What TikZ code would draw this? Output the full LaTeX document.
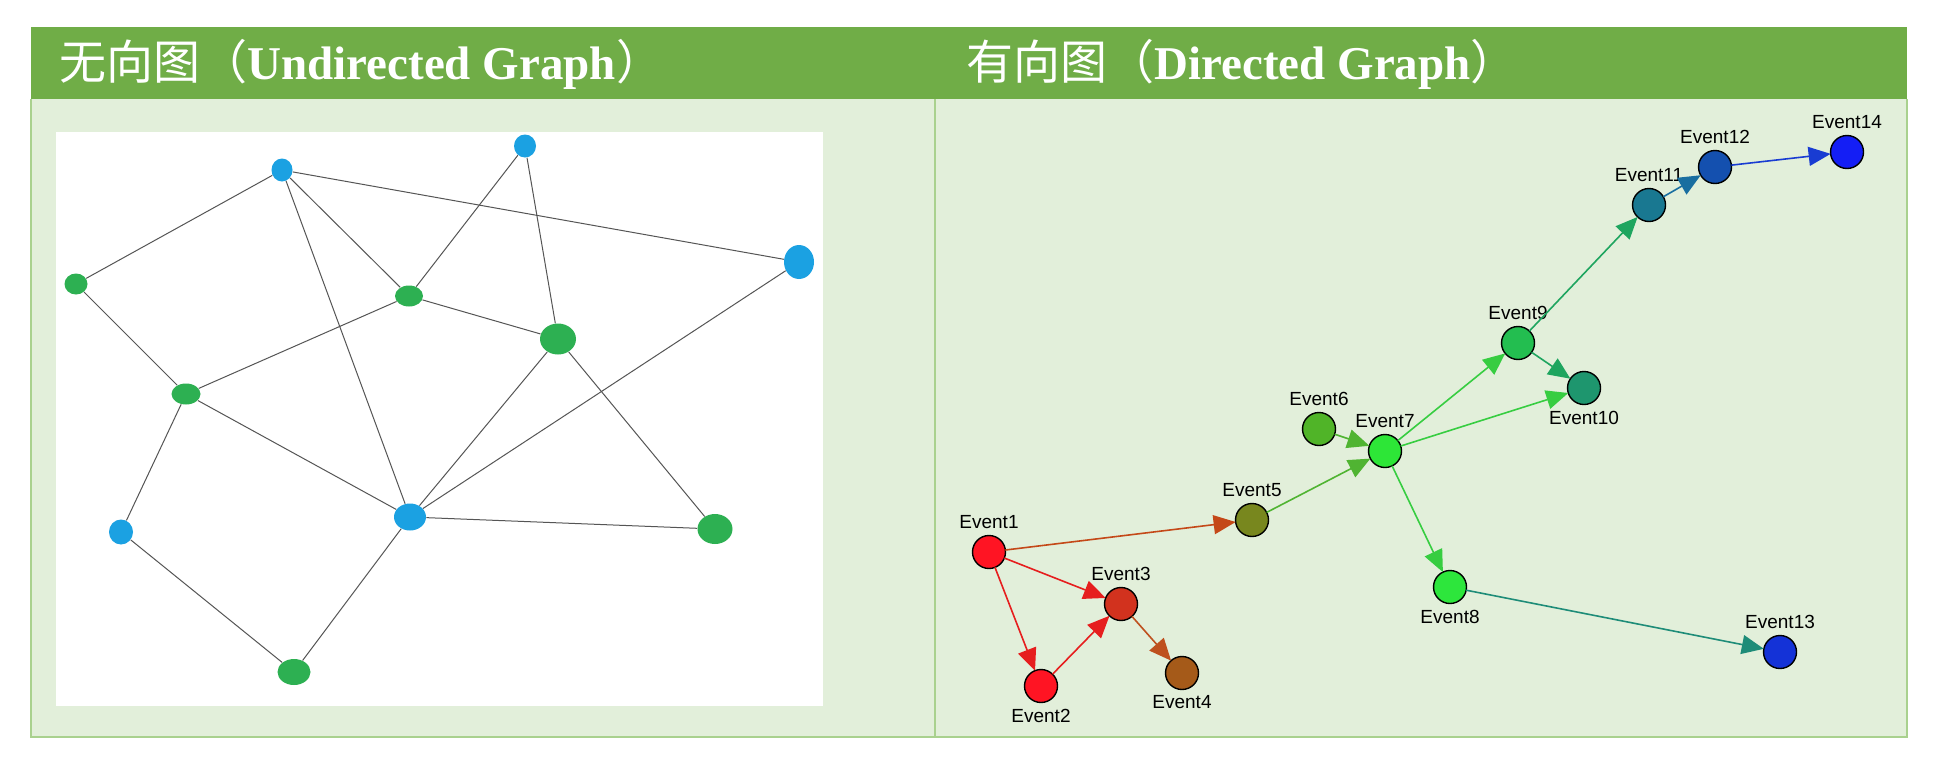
\documentclass[tikz,border=0pt]{standalone}
\usepackage{fontspec}
\setmainfont{Liberation Serif}
\newfontfamily\cjk{Noto Sans CJK SC}
\newfontfamily\evfont{Liberation Sans}
\usetikzlibrary{arrows.meta,shapes.geometric}

\definecolor{headgreen}{RGB}{112,173,71}
\definecolor{panelgreen}{RGB}{226,239,218}
\definecolor{framegreen}{RGB}{169,209,142}
\definecolor{dotblue}{RGB}{27,161,226}
\definecolor{dotgreen}{RGB}{45,176,82}
\definecolor{linkgray}{RGB}{85,85,85}

\definecolor{ev1}{RGB}{255,20,35}
\definecolor{ev2}{RGB}{255,20,35}
\definecolor{ev3}{RGB}{210,50,30}
\definecolor{ev4}{RGB}{165,90,25}
\definecolor{ev5}{RGB}{120,135,30}
\definecolor{ev6}{RGB}{80,180,40}
\definecolor{ev7}{RGB}{45,230,55}
\definecolor{ev8}{RGB}{45,230,60}
\definecolor{ev9}{RGB}{35,190,80}
\definecolor{ev10}{RGB}{30,150,110}
\definecolor{ev11}{RGB}{25,120,145}
\definecolor{ev12}{RGB}{20,80,175}
\definecolor{ev13}{RGB}{20,50,215}
\definecolor{ev14}{RGB}{20,30,245}

\definecolor{arbrown}{RGB}{196,72,24}
\definecolor{arred}{RGB}{230,30,30}
\definecolor{arorange}{RGB}{190,80,30}
\definecolor{argreen}{RGB}{80,180,50}
\definecolor{arlime}{RGB}{55,205,65}
\definecolor{arteal}{RGB}{30,165,95}
\definecolor{arsea}{RGB}{30,140,120}
\definecolor{arcyan}{RGB}{25,110,160}
\definecolor{arblue}{RGB}{25,60,210}

\tikzset{
  title/.style={font=\fontsize{23.5pt}{27pt}\selectfont\bfseries, text=white, inner sep=0pt, anchor=base west},
  dot/.style n args={3}{ellipse, fill=#1, minimum width=#2, minimum height=#3, inner sep=0pt},
  link/.style={draw=linkgray, line width=0.5pt},
  evt/.style={circle, draw=black, line width=0.7pt, fill=#1, minimum size=16.5pt, inner sep=0pt, outer sep=0pt},
  evlabel/.style={font=\evfont\fontsize{9.5pt}{10pt}\selectfont, inner sep=0pt, label distance=3pt},
  evarrow/.style={draw=#1, line width=0.8pt, -{Triangle[length=11pt,width=9.5pt]}}
}

\begin{document}
\begin{tikzpicture}[x=0.5pt, y=-0.5pt]

\useasboundingbox (0,0) rectangle (1946,760);

% frame and header
\fill[white] (0,0) rectangle (1946,760);
\fill[panelgreen] (31,27) rectangle (1907,737);
\fill[headgreen] (31,27) rectangle (1907,99);
\draw[framegreen, line width=1pt] (935,99) -- (935,737);
\draw[framegreen, line width=1pt] (31,99) -- (31,737) -- (1907,737) -- (1907,99);
\fill[white] (56,132) rectangle (823,706);

\node[title] (lefttitle) at (59,79) {{\cjk\mdseries 无向图（}Undirected Graph{\cjk\mdseries ）}};
\node[title] (righttitle) at (966,79) {{\cjk\mdseries 有向图（}Directed Graph{\cjk\mdseries ）}};

% undirected graph
\node[dot={dotblue}{10.5pt}{11.5pt}] (u1) at (282,170) {};
\node[dot={dotblue}{11pt}{11.5pt}] (u2) at (525,146) {};
\node[dot={dotgreen}{11.5pt}{10.5pt}] (u3) at (76,284) {};
\node[dot={dotblue}{15pt}{17pt}] (u4) at (799,262) {};
\node[dot={dotgreen}{14pt}{10.5pt}] (u5) at (409,296) {};
\node[dot={dotgreen}{18pt}{15.5pt}] (u6) at (558,339) {};
\node[dot={dotgreen}{14.5pt}{10.5pt}] (u7) at (186,394) {};
\node[dot={dotblue}{12pt}{12.5pt}] (u8) at (121,532) {};
\node[dot={dotblue}{16pt}{13.5pt}] (u9) at (410,517) {};
\node[dot={dotgreen}{17.5pt}{15pt}] (u10) at (715,529) {};
\node[dot={dotgreen}{16.5pt}{13pt}] (u11) at (294,672) {};

\draw[link] (u1) -- (u3);
\draw[link] (u1) -- (u5);
\draw[link] (u1) -- (u9);
\draw[link] (u1) -- (u4);
\draw[link] (u2) -- (u5);
\draw[link] (u2) -- (u6);
\draw[link] (u3) -- (u7);
\draw[link] (u5) -- (u7);
\draw[link] (u5) -- (u6);
\draw[link] (u7) -- (u9);
\draw[link] (u7) -- (u8);
\draw[link] (u6) -- (u9);
\draw[link] (u6) -- (u10);
\draw[link] (u4) -- (u9);
\draw[link] (u9) -- (u10);
\draw[link] (u9) -- (u11);
\draw[link] (u8) -- (u11);

% directed graph
\node[evt=ev1, label={[evlabel]above:Event1}] (e1) at (989,552) {};
\node[evt=ev2, label={[evlabel]below:Event2}] (e2) at (1041,686) {};
\node[evt=ev3, label={[evlabel]above:Event3}] (e3) at (1121,604) {};
\node[evt=ev4, label={[evlabel]below:Event4}] (e4) at (1182,673) {};
\node[evt=ev5, label={[evlabel]above:Event5}] (e5) at (1252,520) {};
\node[evt=ev6, label={[evlabel]above:Event6}] (e6) at (1319,429) {};
\node[evt=ev7, label={[evlabel]above:Event7}] (e7) at (1385,451) {};
\node[evt=ev8, label={[evlabel]below:Event8}] (e8) at (1450,587) {};
\node[evt=ev9, label={[evlabel]above:Event9}] (e9) at (1518,343) {};
\node[evt=ev10, label={[evlabel]below:Event10}] (e10) at (1584,388) {};
\node[evt=ev11, label={[evlabel]above:Event11}] (e11) at (1649,205) {};
\node[evt=ev12, label={[evlabel]above:Event12}] (e12) at (1715,167) {};
\node[evt=ev13, label={[evlabel]above:Event13}] (e13) at (1780,652) {};
\node[evt=ev14, label={[evlabel]above:Event14}] (e14) at (1847,152) {};

\draw[evarrow=arbrown] (e1) -- (e5);
\draw[evarrow=arred] (e1) -- (e3);
\draw[evarrow=arred] (e1) -- (e2);
\draw[evarrow=arred] (e2) -- (e3);
\draw[evarrow=arorange] (e3) -- (e4);
\draw[evarrow=argreen] (e5) -- (e7);
\draw[evarrow=argreen] (e6) -- (e7);
\draw[evarrow=arlime] (e7) -- (e9);
\draw[evarrow=arlime] (e7) -- (e10);
\draw[evarrow=arlime] (e7) -- (e8);
\draw[evarrow=arteal] (e9) -- (e10);
\draw[evarrow=arteal] (e9) -- (e11);
\draw[evarrow=arcyan] (e11) -- (e12);
\draw[evarrow=arblue] (e12) -- (e14);
\draw[evarrow=arsea] (e8) -- (e13);

\end{tikzpicture}
\end{document}
